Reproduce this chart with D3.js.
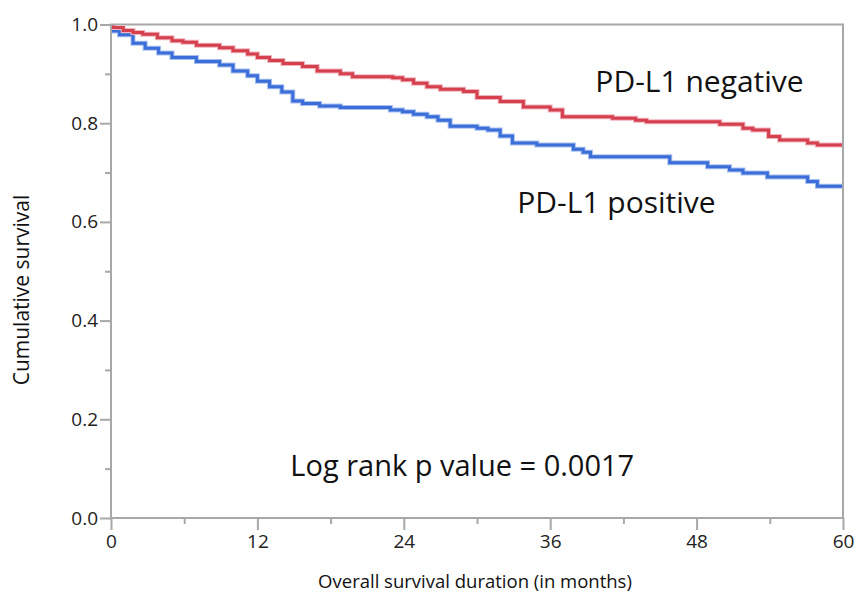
<!DOCTYPE html>
<html>
<head>
<meta charset="utf-8">
<script src="https://cdn.jsdelivr.net/npm/d3@7"></script>
<style>
  body { margin: 0; background: #fff; }
  svg { display: block; }
</style>
</head>
<body>
<div id="chart"></div>
<script>
// step times (months) and survival values
const negTimes = [0, 0.2, 1.0, 1.8, 2.6, 3.8, 5.0, 5.9, 7.0, 8.9, 10.0, 11.2, 12.0, 13.0, 14.1, 15.7, 16.9, 18.8, 19.8, 23.1, 23.9, 24.8, 25.9, 27.0, 28.9, 30.0, 31.9, 33.8, 36.0, 37.0, 41.1, 43.0, 43.9, 49.9, 51.8, 52.6, 53.9, 54.8, 57.1, 57.9, 60];
const negSurv  = [1.0, 0.994, 0.988, 0.984, 0.980, 0.973, 0.967, 0.964, 0.958, 0.953, 0.947, 0.940, 0.933, 0.927, 0.921, 0.915, 0.906, 0.900, 0.894, 0.892, 0.888, 0.881, 0.874, 0.869, 0.864, 0.852, 0.844, 0.833, 0.827, 0.813, 0.810, 0.806, 0.803, 0.798, 0.790, 0.786, 0.773, 0.766, 0.760, 0.756, 0.756];

const posTimes = [0, 0.2, 0.7, 1.8, 2.8, 3.9, 5.0, 7.0, 8.9, 10.0, 11.2, 12.0, 13.0, 14.0, 14.9, 15.7, 17.1, 18.8, 22.9, 23.9, 24.8, 25.9, 26.8, 27.8, 30.0, 30.9, 31.9, 32.9, 34.9, 37.9, 38.7, 39.3, 45.8, 48.9, 50.7, 51.8, 53.8, 57.1, 57.9, 60];
const posSurv  = [1.0, 0.987, 0.979, 0.962, 0.952, 0.942, 0.933, 0.925, 0.918, 0.906, 0.896, 0.885, 0.874, 0.863, 0.845, 0.840, 0.835, 0.832, 0.827, 0.823, 0.818, 0.813, 0.806, 0.794, 0.790, 0.786, 0.774, 0.760, 0.756, 0.747, 0.741, 0.732, 0.720, 0.712, 0.705, 0.699, 0.691, 0.682, 0.672, 0.672];

const xMajor = [0, 12, 24, 36, 48, 60];
const xMinor = [6, 18, 30, 42, 54];
const yMajor = [0, 0.2, 0.4, 0.6, 0.8, 1.0];
const yMinor = [0.1, 0.3, 0.5, 0.7, 0.9];

const margin = { top: 24.5, right: 12, bottom: 81, left: 111 },
      width = 855 - margin.left - margin.right,
      height = 599 - margin.top - margin.bottom;

const svg = d3.select("#chart")
    .append("svg")
    .attr("width", 855)
    .attr("height", 599);

const g = svg.append("g")
    .attr("transform", `translate(${margin.left},${margin.top})`);

const x = d3.scaleLinear().domain([0, 60]).range([0, width]);
const y = d3.scaleLinear().domain([0, 1]).range([height, 0]);

const font = "'Open Sans', 'DejaVu Sans', sans-serif";
const axisColor = "#a8a8a8";
const labelColor = "#222";

// minor ticks first
g.append("g")
    .attr("transform", `translate(0,${height})`)
    .call(d3.axisBottom(x).tickValues(xMinor).tickSize(6).tickFormat(""))
    .call(a => a.select(".domain").remove())
    .call(a => a.selectAll("line").attr("stroke", axisColor).attr("stroke-width", 2));

g.append("g")
    .call(d3.axisLeft(y).tickValues(yMinor).tickSize(6).tickFormat(""))
    .call(a => a.select(".domain").remove())
    .call(a => a.selectAll("line").attr("stroke", axisColor).attr("stroke-width", 2));

g.append("g")
    .attr("transform", `translate(0,${height})`)
    .call(d3.axisBottom(x).tickValues(xMajor).tickSize(12).tickPadding(5).tickFormat(d3.format("d")))
    .call(a => a.select(".domain").remove())
    .call(a => a.selectAll("line").attr("stroke", axisColor).attr("stroke-width", 2))
    .call(a => a.selectAll("text").attr("font-family", font).attr("font-size", 19).attr("fill", labelColor));

g.append("g")
    .call(d3.axisLeft(y).tickValues(yMajor).tickSize(11).tickPadding(2).tickFormat(d3.format(".1f")))
    .call(a => a.select(".domain").remove())
    .call(a => a.selectAll("line").attr("stroke", axisColor).attr("stroke-width", 2))
    .call(a => a.selectAll("text").attr("font-family", font).attr("font-size", 19).attr("fill", labelColor));

// frame
g.append("rect")
    .attr("x", 0).attr("y", 0)
    .attr("width", width).attr("height", height)
    .attr("fill", "none")
    .attr("stroke", axisColor)
    .attr("stroke-width", 2);

svg.append("defs").append("clipPath").attr("id", "plot-clip")
    .append("rect").attr("x", 1).attr("y", 1).attr("width", width - 2).attr("height", height - 2);

const line = d3.line()
    .x(d => x(d[0]))
    .y(d => y(d[1]))
    .curve(d3.curveStepAfter);

const curves = [
    { times: posTimes, surv: posSurv, core: "#3b6ed8", halo: "#a8c0f0" },
    { times: negTimes, surv: negSurv, core: "#d5404f", halo: "#f1b3bb" }
];

const lines = g.append("g").attr("clip-path", "url(#plot-clip)");
curves.forEach(c => {
    const pts = c.times.map((t, i) => [t, c.surv[i]]);
    lines.append("path")
        .datum(pts)
        .attr("fill", "none")
        .attr("stroke", c.halo)
        .attr("stroke-width", 5)
        .attr("d", line);
    lines.append("path")
        .datum(pts)
        .attr("fill", "none")
        .attr("stroke", c.core)
        .attr("stroke-width", 3)
        .attr("d", line);
});

// annotations
g.append("text")
    .attr("x", x(39.7)).attr("y", y(0.863))
    .attr("font-family", font).attr("font-size", 30).attr("fill", "#111")
    .text("PD-L1 negative");

g.append("text")
    .attr("x", x(33.3)).attr("y", y(0.618))
    .attr("font-family", font).attr("font-size", 30).attr("fill", "#111")
    .text("PD-L1 positive");

g.append("text")
    .attr("x", x(14.7)).attr("y", y(0.085))
    .attr("font-family", font).attr("font-size", 29).attr("fill", "#111")
    .text("Log rank p value = 0.0017");

// axis titles
svg.append("text")
    .attr("x", margin.left + width / 2 - 2).attr("y", 588)
    .attr("text-anchor", "middle")
    .attr("font-family", font).attr("font-size", 18.5).attr("fill", "#111")
    .text("Overall survival duration (in months)");

svg.append("text")
    .attr("transform", `translate(29,${290}) rotate(-90)`)
    .attr("text-anchor", "middle")
    .attr("font-family", font).attr("font-size", 21).attr("fill", "#111")
    .text("Cumulative survival");
</script>
</body>
</html>
